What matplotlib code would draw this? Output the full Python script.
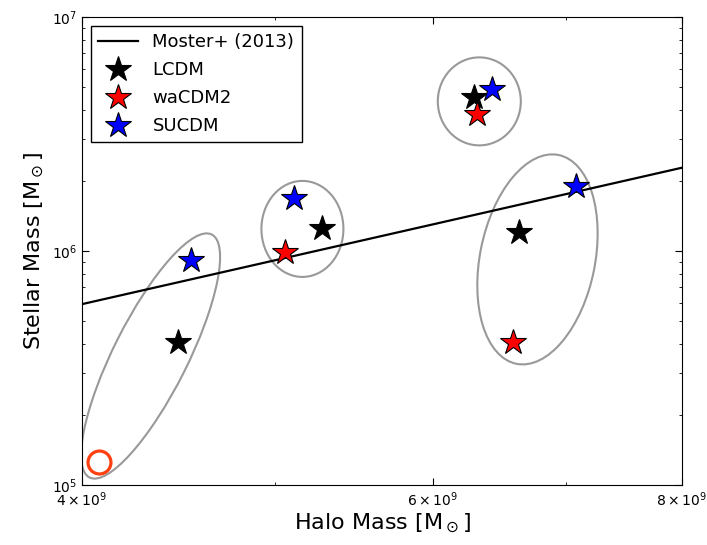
import matplotlib
matplotlib.use("Agg")
import matplotlib.pyplot as plt
from matplotlib.patches import Ellipse
from matplotlib.transforms import ScaledTranslation
from matplotlib.ticker import FixedLocator, NullFormatter


# halo / stellar masses per cosmology, one entry per galaxy
lcdm_halo = [4.47e9, 5.28e9, 6.29e9, 6.63e9]
lcdm_star = [4.10e5, 1.26e6, 4.55e6, 1.20e6]

wacdm2_halo = [5.06e9, 6.31e9, 6.58e9]
wacdm2_star = [9.9e5, 3.86e6, 4.10e5]

sucdm_halo = [4.535e9, 5.11e9, 6.42e9, 7.08e9]
sucdm_star = [9.2e5, 1.68e6, 4.92e6, 1.90e6]

# abundance matching relation
moster_halo = [4e9, 6e9, 8e9]
moster_star = [5.93e5, 1.30e6, 2.27e6]

# observed dwarf
obs_halo = [4.08e9]
obs_star = [1.26e5]

# groups of matching galaxies: centre (data), width/height (inches), angle
group_centres = [(4.33e9, 3.56e5), (5.16e9, 1.243e6), (6.33e9, 4.36e6), (6.77e9, 9.21e5)]
group_sizes = [(2.72, 0.74, 63.3), (0.82, 0.96, 0), (0.83, 0.88, 0), (2.13, 1.15, 78.6)]

xticks = [4e9, 6e9, 8e9]
xticklabels = [r'$4\times10^{9}$', r'$6\times10^{9}$', r'$8\times10^{9}$']


fig = plt.figure(figsize=(7.07, 5.45), dpi=100)
ax = fig.add_axes([0.116, 0.110, 0.8486, 0.8588])
ax.set_xscale('log')
ax.set_yscale('log')
ax.set_xlim(4e9, 8e9)
ax.set_ylim(1e5, 1e7)

ax.plot(moster_halo, moster_star, color='k', lw=1.6, label='Moster+ (2013)')

star = dict(marker='*', ls='none', ms=19, mec='k', mew=0.8)
ax.plot(lcdm_halo, lcdm_star, color='k', mfc='k', label='LCDM', **star)
ax.plot(wacdm2_halo, wacdm2_star, color='r', mfc='r', label='waCDM2', **star)
ax.plot(sucdm_halo, sucdm_star, color='b', mfc='b', label='SUCDM', **star)

ax.plot(obs_halo, obs_star, marker='o', ls='none', ms=16.5, mfc='none',
        mec='#ff4010', mew=2.3)

for (cx, cy), (w, h, ang) in zip(group_centres, group_sizes):
    e = Ellipse((0, 0), w, h, angle=ang, fill=False, ec='#999999', lw=1.5,
                transform=fig.dpi_scale_trans + ScaledTranslation(cx, cy, ax.transData))
    ax.add_patch(e)

ax.xaxis.set_major_locator(FixedLocator(xticks))
ax.set_xticklabels(xticklabels)
ax.xaxis.set_minor_locator(FixedLocator([5e9, 7e9]))
ax.xaxis.set_minor_formatter(NullFormatter())

ax.tick_params(which='both', direction='in', top=True, right=True, labelsize=10)
ax.tick_params(which='major', length=5)
ax.tick_params(which='minor', length=2.5)
ax.tick_params(axis='x', pad=4)

ax.set_xlabel(r'Halo Mass [M$_\odot$]', fontsize=16, labelpad=2)
ax.set_ylabel(r'Stellar Mass [M$_\odot$]', fontsize=16)

leg = ax.legend(loc='upper left', numpoints=1, fontsize=13, fancybox=False,
                framealpha=1, edgecolor='k', handlelength=2.2, labelspacing=0.55)
leg.get_frame().set_linewidth(1.0)

fig.savefig('out.png', dpi=100)
